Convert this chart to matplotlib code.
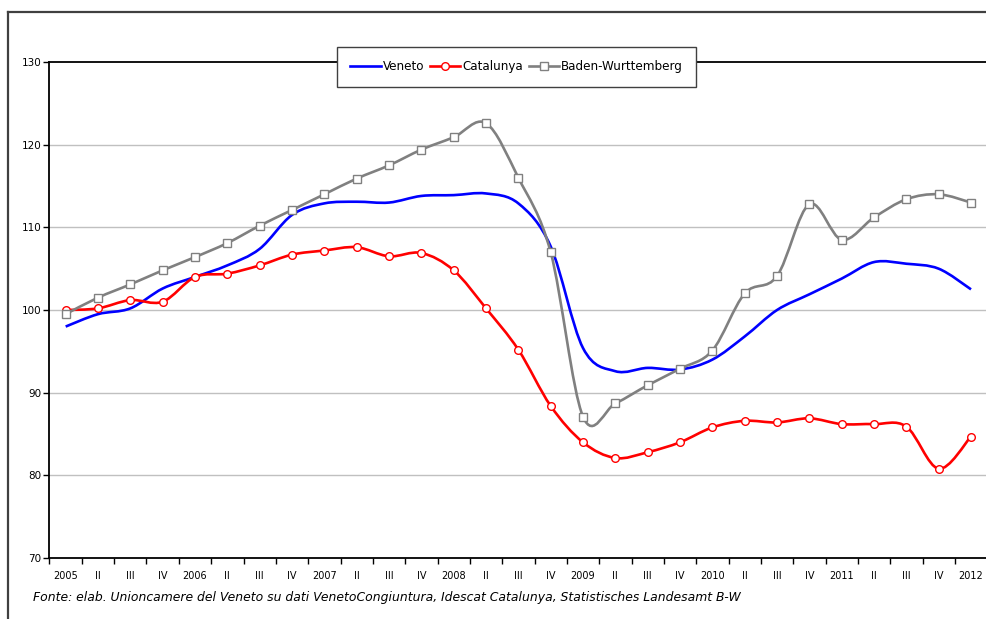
import numpy as np
import matplotlib
matplotlib.use("Agg")
from matplotlib import pyplot as plt
from matplotlib.path import Path
from matplotlib.patches import PathPatch
from matplotlib.lines import Line2D

# trimestri 2005-I .. 2012-I
etichette = []
for anno in range(2005, 2012):
    etichette += [str(anno), "II", "III", "IV"]
etichette.append("2012")

veneto = [98.0, 99.5, 100.2, 102.6, 104.0, 105.4, 107.4, 111.5, 112.9, 113.1,
          113.0, 113.8, 113.9, 114.1, 112.9, 107.7, 95.4, 92.6, 93.0, 92.8,
          94.0, 96.8, 100.0, 101.9, 103.8, 105.8, 105.6, 105.0, 102.5]
catalunya = [100.0, 100.2, 101.2, 101.0, 104.0, 104.4, 105.4, 106.7, 107.2, 107.6,
             106.5, 106.9, 104.8, 100.2, 95.2, 88.4, 84.0, 82.1, 82.8, 84.0,
             85.8, 86.6, 86.4, 86.9, 86.2, 86.2, 85.9, 80.8, 84.7]
baden = [99.5, 101.5, 103.1, 104.8, 106.4, 108.1, 110.2, 112.1, 114.0, 115.9,
         117.5, 119.4, 120.9, 122.6, 116.0, 107.0, 87.1, 88.7, 90.9, 92.9,
         95.1, 102.0, 104.1, 112.8, 108.5, 111.2, 113.4, 114.0, 113.0]


def curva_liscia(x, y):
    # linea "smussata" tipo Excel: bezier cubiche (Catmull-Rom)
    x = np.asarray(x, float)
    y = np.asarray(y, float)
    n = len(x)
    verts = [(x[0], y[0])]
    codes = [Path.MOVETO]
    for i in range(n - 1):
        i0 = max(i - 1, 0)
        i3 = min(i + 2, n - 1)
        c1 = (x[i] + (x[i + 1] - x[i0]) / 6, y[i] + (y[i + 1] - y[i0]) / 6)
        c2 = (x[i + 1] - (x[i3] - x[i]) / 6, y[i + 1] - (y[i3] - y[i]) / 6)
        verts += [c1, c2, (x[i + 1], y[i + 1])]
        codes += [Path.CURVE4] * 3
    return Path(verts, codes)


fig = plt.figure(figsize=(9.86, 6.19), dpi=100)
ax = fig.add_axes([0.0502, 0.0985, 0.951, 0.8013])

xs = np.arange(len(etichette))
serie = [
    ("Veneto", veneto, "#0000ff", None),
    ("Catalunya", catalunya, "#ff0000", "o"),
    ("Baden-Wurttemberg", baden, "#808080", "s"),
]
maniglie = []
for nome, valori, colore, marker in serie:
    ax.add_patch(PathPatch(curva_liscia(xs, valori), facecolor="none",
                           edgecolor=colore, lw=1.9, zorder=3))
    if marker:
        ax.plot(xs, valori, linestyle="none", marker=marker, ms=5.5,
                mfc="white", mec=colore, mew=1.0, zorder=4)
    maniglie.append(Line2D([], [], color=colore, lw=1.9, marker=marker, ms=5.5,
                           mfc="white", mec=colore, mew=1.0))

ax.set_xlim(-0.5, len(etichette) - 0.5)
ax.set_ylim(70, 130)
ax.set_yticks(range(70, 131, 10))
ax.set_xticks(xs)
ax.set_xticklabels(etichette)
ax.set_xticks(np.arange(-0.5, len(etichette), 1), minor=True)
ax.tick_params(axis="x", which="major", length=0, pad=9, labelsize=7)
ax.tick_params(axis="x", which="minor", length=4, width=1, direction="out")
ax.tick_params(axis="y", length=4, width=1, direction="out", pad=2, labelsize=7.5)
for v in range(80, 130, 10):
    ax.axhline(v, color="#c0c0c0", lw=1, zorder=1)
ax.spines["right"].set_visible(False)
for s in ["left", "top", "bottom"]:
    ax.spines[s].set_linewidth(1.3)

leg = fig.legend(maniglie, [s[0] for s in serie], loc="center",
                 bbox_to_anchor=(0.524, 0.892), ncol=3,
                 prop={"size": 9.5, "stretch": "condensed"},
                 fancybox=False, framealpha=1, edgecolor="#404040",
                 handlelength=2.3, handletextpad=0.15, columnspacing=0.45,
                 borderpad=1.0)
leg.get_frame().set_linewidth(1.0)

fig.text(0.033, 0.035, "Fonte: elab. Unioncamere del Veneto su dati VenetoCongiuntura, "
         "Idescat Catalunya, Statistisches Landesamt B-W",
         fontsize=8.9, style="italic", va="center")

# cornice esterna
fig.add_artist(Line2D([0.0086, 0.0086], [0.0, 0.9806], color="#404040", lw=1.6))
fig.add_artist(Line2D([0.0086, 1.0], [0.9806, 0.9806], color="#404040", lw=1.6))

fig.savefig("out.png", dpi=100)
